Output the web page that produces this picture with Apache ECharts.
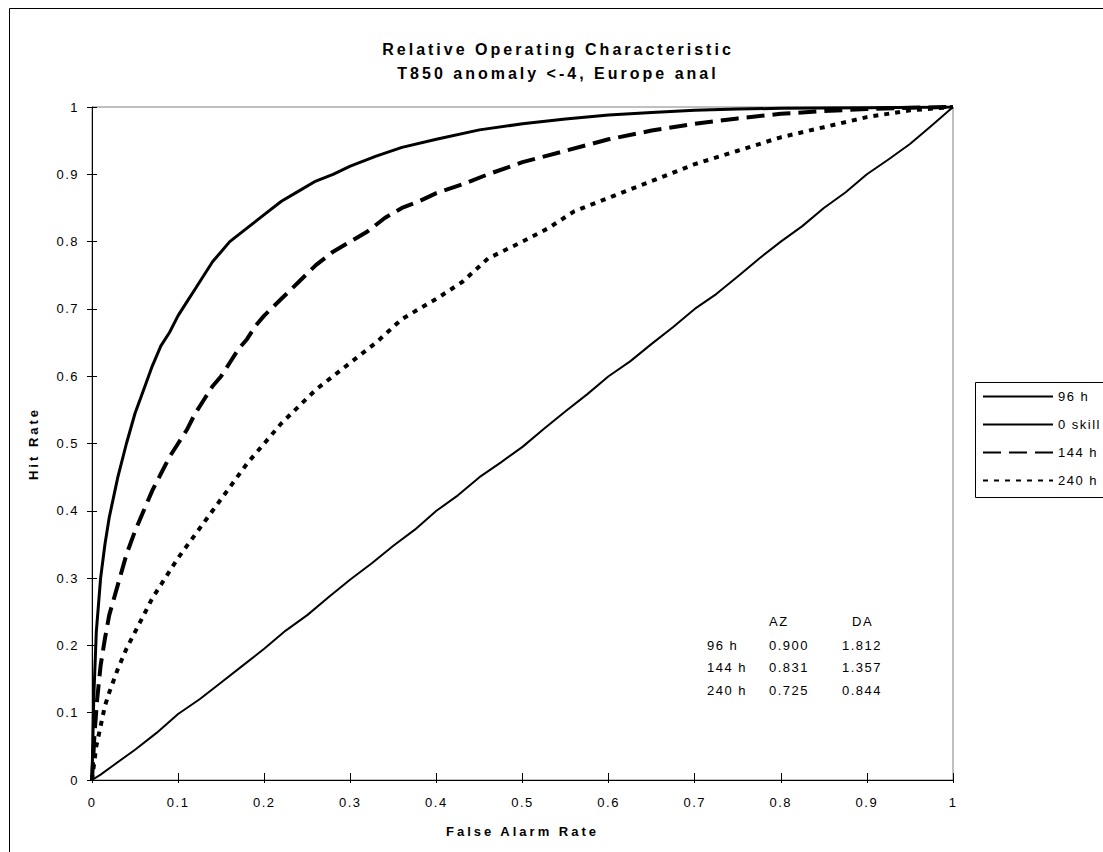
<!DOCTYPE html>
<html>
<head>
<meta charset="utf-8">
<title>Relative Operating Characteristic</title>
<script src="https://cdn.jsdelivr.net/npm/echarts/dist/echarts.min.js"></script>
<style>
  html, body { margin: 0; padding: 0; background: #ffffff; }
  #chart { width: 1103px; height: 852px; }
  /* spreadsheet-style wide lettering */
  #chart text { letter-spacing: 1.5px; }
  #chart text[style*="bold"] { letter-spacing: 3px; }
</style>
</head>
<body>
<div id="chart"></div>
<script>
// ---- data ---------------------------------------------------------------
const titleLines = ['Relative Operating Characteristic', 'T850 anomaly <-4, Europe anal'];
const xAxisTitle = 'False Alarm Rate';
const yAxisTitle = 'Hit Rate';
const seriesNames = ['96 h', '0 skill', '144 h', '240 h'];

// [false alarm rate, hit rate]
const roc96h = [
  [0, 0], [0.002, 0.12], [0.005, 0.22], [0.01, 0.30], [0.015, 0.35], [0.02, 0.39],
  [0.03, 0.45], [0.04, 0.50], [0.05, 0.545], [0.06, 0.58], [0.07, 0.615], [0.08, 0.645],
  [0.09, 0.665], [0.10, 0.69], [0.11, 0.71], [0.12, 0.73], [0.13, 0.75], [0.14, 0.77],
  [0.15, 0.785], [0.16, 0.80], [0.18, 0.82], [0.20, 0.84], [0.22, 0.86], [0.24, 0.875],
  [0.26, 0.89], [0.28, 0.90], [0.30, 0.912], [0.33, 0.927], [0.36, 0.94], [0.40, 0.952],
  [0.45, 0.966], [0.50, 0.975], [0.55, 0.982], [0.60, 0.988], [0.65, 0.992], [0.70, 0.995],
  [0.75, 0.997], [0.80, 0.998], [0.90, 0.999], [1, 1]
];
const noSkill = [
  [0, 0], [0.01, 0.008], [0.025, 0.022], [0.05, 0.045], [0.075, 0.07], [0.10, 0.098],
  [0.125, 0.12], [0.15, 0.145], [0.175, 0.17], [0.20, 0.195], [0.225, 0.222], [0.25, 0.245],
  [0.275, 0.272], [0.30, 0.298], [0.325, 0.322], [0.35, 0.348], [0.375, 0.372], [0.40, 0.40],
  [0.425, 0.423], [0.45, 0.45], [0.475, 0.472], [0.50, 0.495], [0.525, 0.522], [0.55, 0.548],
  [0.575, 0.573], [0.60, 0.60], [0.625, 0.622], [0.65, 0.648], [0.675, 0.673], [0.70, 0.70],
  [0.725, 0.722], [0.75, 0.748], [0.775, 0.775], [0.80, 0.80], [0.825, 0.823], [0.85, 0.85],
  [0.875, 0.873], [0.90, 0.90], [0.925, 0.922], [0.95, 0.945], [0.975, 0.972], [1, 1]
];
const roc144h = [
  [0, 0], [0.003, 0.07], [0.006, 0.12], [0.01, 0.17], [0.015, 0.21], [0.02, 0.245],
  [0.03, 0.29], [0.04, 0.335], [0.05, 0.37], [0.06, 0.40], [0.07, 0.43], [0.08, 0.455],
  [0.09, 0.48], [0.10, 0.50], [0.11, 0.52], [0.12, 0.545], [0.13, 0.565], [0.14, 0.585],
  [0.15, 0.60], [0.16, 0.62], [0.17, 0.64], [0.18, 0.655], [0.19, 0.675], [0.20, 0.69],
  [0.22, 0.715], [0.24, 0.74], [0.26, 0.765], [0.28, 0.785], [0.30, 0.80], [0.32, 0.815],
  [0.34, 0.835], [0.36, 0.85], [0.38, 0.86], [0.40, 0.872], [0.43, 0.885], [0.46, 0.90],
  [0.50, 0.918], [0.55, 0.935], [0.60, 0.952], [0.65, 0.965], [0.70, 0.975], [0.75, 0.983],
  [0.80, 0.99], [0.85, 0.994], [0.90, 0.997], [0.95, 0.999], [1, 1]
];
const roc240h = [
  [0, 0], [0.005, 0.05], [0.01, 0.08], [0.015, 0.11], [0.02, 0.13], [0.03, 0.165],
  [0.04, 0.195], [0.05, 0.22], [0.06, 0.245], [0.07, 0.27], [0.08, 0.29], [0.09, 0.31],
  [0.10, 0.33], [0.12, 0.365], [0.14, 0.40], [0.16, 0.435], [0.18, 0.47], [0.20, 0.50],
  [0.22, 0.53], [0.24, 0.555], [0.26, 0.58], [0.28, 0.60], [0.30, 0.62], [0.33, 0.65],
  [0.36, 0.685], [0.40, 0.715], [0.43, 0.74], [0.46, 0.775], [0.50, 0.80], [0.53, 0.82],
  [0.56, 0.845], [0.60, 0.865], [0.65, 0.89], [0.70, 0.915], [0.75, 0.935], [0.80, 0.955],
  [0.85, 0.97], [0.90, 0.985], [0.95, 0.995], [1, 1]
];

// area scores per lead time
const scoreHeader = ['AZ', 'DA'];
const scoreLeads = ['96 h', '144 h', '240 h'];
const azScores = [0.900, 0.831, 0.725];
const daScores = [1.812, 1.357, 0.844];

// ---- chart --------------------------------------------------------------
const FONT = "'Liberation Sans', Arial, sans-serif";
const chart = echarts.init(document.getElementById('chart'), null, { renderer: 'svg' });

const tickFmt = v => String(+v.toFixed(1));

function label(text, x, y) {
  return { type: 'text', x, y, z: 5, silent: true,
    style: { text, font: '13px ' + FONT, fill: '#000', textVerticalAlign: 'middle' } };
}
const scoreText = [label(scoreHeader[0], 769, 621), label(scoreHeader[1], 852, 621)];
scoreLeads.forEach((lead, i) => {
  const y = 645 + i * 22.5;
  scoreText.push(label(lead, 707, y));
  scoreText.push(label(azScores[i].toFixed(3), 769, y));
  scoreText.push(label(daScores[i].toFixed(3), 842, y));
});

const baseAxis = {
  type: 'value', min: 0, max: 1, interval: 0.1,
  splitLine: { show: false }
};

function curve(name, data, width, dash) {
  return {
    name, type: 'line', data, symbol: 'none', smooth: false,
    xAxisIndex: 0, yAxisIndex: 0,
    itemStyle: { color: '#000' },
    lineStyle: { color: '#000', width, type: dash, cap: 'butt', join: 'round' },
    emphasis: { disabled: true },
    z: 3
  };
}

chart.setOption({
  animation: false,
  backgroundColor: '#ffffff',
  title: {
    text: titleLines.join('\n'),
    left: 558, top: 37, padding: 0, textAlign: 'center',
    textStyle: { fontFamily: FONT, fontSize: 16, fontWeight: 'bold', color: '#000', lineHeight: 24 }
  },
  grid: {
    left: 92, right: 150, top: 107, bottom: 72,
    show: true, borderColor: '#808080', borderWidth: 1,
    outerBoundsMode: 'none'
  },
  xAxis: [
    Object.assign({}, baseAxis, {
      position: 'bottom',
      name: xAxisTitle, nameLocation: 'middle', nameGap: 45, nameMoveOverlap: false,
      nameTextStyle: { fontFamily: FONT, fontSize: 13, fontWeight: 'bold', color: '#000' },
      axisLine: { show: true, onZero: false, lineStyle: { color: '#000', width: 1 } },
      axisTick: { show: true, inside: false, length: 3, lineStyle: { color: '#000', width: 1 } },
      axisLabel: { margin: 16, color: '#000', fontFamily: FONT, fontSize: 13, formatter: tickFmt }
    }),
    Object.assign({}, baseAxis, {
      position: 'bottom',
      axisLine: { show: false, onZero: false },
      axisTick: { show: true, inside: true, length: 7, lineStyle: { color: '#000', width: 1 } },
      axisLabel: { show: false }
    })
  ],
  yAxis: [
    Object.assign({}, baseAxis, {
      position: 'left',
      name: yAxisTitle, nameLocation: 'middle', nameGap: 52, nameRotate: 90, nameMoveOverlap: false,
      nameTextStyle: { fontFamily: FONT, fontSize: 13, fontWeight: 'bold', color: '#000' },
      axisLine: { show: true, onZero: false, lineStyle: { color: '#000', width: 1 } },
      axisTick: { show: true, inside: false, length: 5, lineStyle: { color: '#000', width: 1 } },
      axisLabel: { margin: 13, color: '#000', fontFamily: FONT, fontSize: 13, formatter: tickFmt }
    }),
    Object.assign({}, baseAxis, {
      position: 'left',
      axisLine: { show: false, onZero: false },
      axisTick: { show: true, inside: true, length: 5, lineStyle: { color: '#000', width: 1 } },
      axisLabel: { show: false }
    })
  ],
  legend: {
    data: seriesNames,
    orient: 'vertical', left: 982, top: 390, padding: 0,
    itemWidth: 70, itemHeight: 14, itemGap: 15,
    selectedMode: false, z: 10,
    itemStyle: { opacity: 0, borderWidth: 0 },
    textStyle: { fontFamily: FONT, fontSize: 13, color: '#000' }
  },
  graphic: [
    { type: 'rect', z: -10, silent: true,
      shape: { x: 9.5, y: 8.5, width: 1300, height: 1000 },
      style: { fill: 'none', stroke: '#000', lineWidth: 1 } },
    { type: 'rect', z: 1, silent: true,
      shape: { x: 975.5, y: 382.5, width: 200, height: 115 },
      style: { fill: '#fff', stroke: '#000', lineWidth: 1 } }
  ].concat(scoreText),
  series: [
    curve(seriesNames[0], roc96h, 3, 'solid'),
    curve(seriesNames[1], noSkill, 2, 'solid'),
    curve(seriesNames[2], roc144h, 4, [18, 8]),
    curve(seriesNames[3], roc240h, 4, [5, 6])
  ]
});
</script>
</body>
</html>
